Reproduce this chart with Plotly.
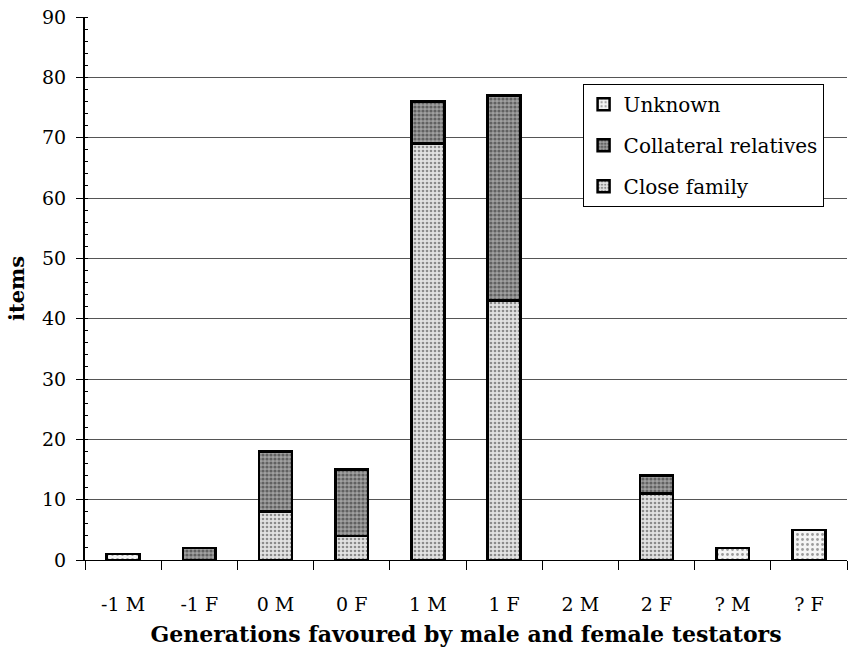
import plotly.graph_objects as go

categories = ["-1 M", "-1 F", "0 M", "0 F", "1 M", "1 F", "2 M", "2 F", "? M", "? F"]
close_family = [0, 0, 8, 4, 69, 43, 0, 11, 0, 0]
collateral = [0, 2, 10, 11, 7, 34, 0, 3, 0, 0]
unknown = [1, 0, 0, 0, 0, 0, 0, 0, 2, 5]

FONT = "DejaVu Serif"


def nz(vals):
    return [v if v else None for v in vals]


fig = go.Figure()
fig.add_trace(go.Bar(
    x=categories, y=nz(close_family), name="Close family", legendgroup="c", legendrank=3,
    marker=dict(color="#d0d0d0", line=dict(color="black", width=2.5),
                pattern=dict(shape=".", fgcolor="#333333", bgcolor="#e2e2e2", size=4, solidity=0.35)),
))
fig.add_trace(go.Bar(
    x=categories, y=nz(collateral), name="Collateral relatives", legendgroup="b", legendrank=2,
    marker=dict(color="#808080", line=dict(color="black", width=2.5),
                pattern=dict(shape=".", fgcolor="#222222", bgcolor="#a0a0a0", size=4, solidity=0.5)),
))
fig.add_trace(go.Bar(
    x=categories, y=nz(unknown), name="Unknown", legendgroup="a", legendrank=1,
    marker=dict(color="#f0f0f0", line=dict(color="black", width=2.5),
                pattern=dict(shape=".", fgcolor="#444444", bgcolor="#f4f4f4", size=5, solidity=0.25)),
))

fig.update_layout(
    width=848, height=650,
    barmode="stack", bargap=0.57,
    margin=dict(l=85, r=1, t=17, b=90),
    paper_bgcolor="white", plot_bgcolor="white",
    font=dict(family=FONT, size=18, color="black"),
    showlegend=True,
    legend=dict(
        x=0.653, y=0.877, xanchor="left", yanchor="top",
        bgcolor="white", bordercolor="black", borderwidth=1,
        traceorder="grouped", tracegroupgap=12,
        font=dict(family=FONT, size=20),
        itemwidth=30,
    ),
    xaxis=dict(
        title=dict(text="<b>Generations favoured by male and female testators</b>",
                   font=dict(size=22), standoff=12),
        tickson="boundaries", ticks="outside", ticklen=9, tickcolor="black",
        ticklabelstandoff=27, tickfont=dict(size=19),
        showline=True, linecolor="black", linewidth=1, showgrid=False,
    ),
    yaxis=dict(
        title=dict(text="<b>items</b>", font=dict(size=21), standoff=12),
        range=[0, 90], dtick=10, ticks="outside", ticklen=7, tickcolor="black",
        ticklabelstandoff=6, tickfont=dict(size=19),
        showline=True, linecolor="black", linewidth=2,
        showgrid=True, gridcolor="#555555", gridwidth=1, zeroline=False,
        minor=dict(ticks="inside", ticklen=3, dtick=2, tickcolor="black", showgrid=False),
    ),
)

fig.write_html("out.html")
